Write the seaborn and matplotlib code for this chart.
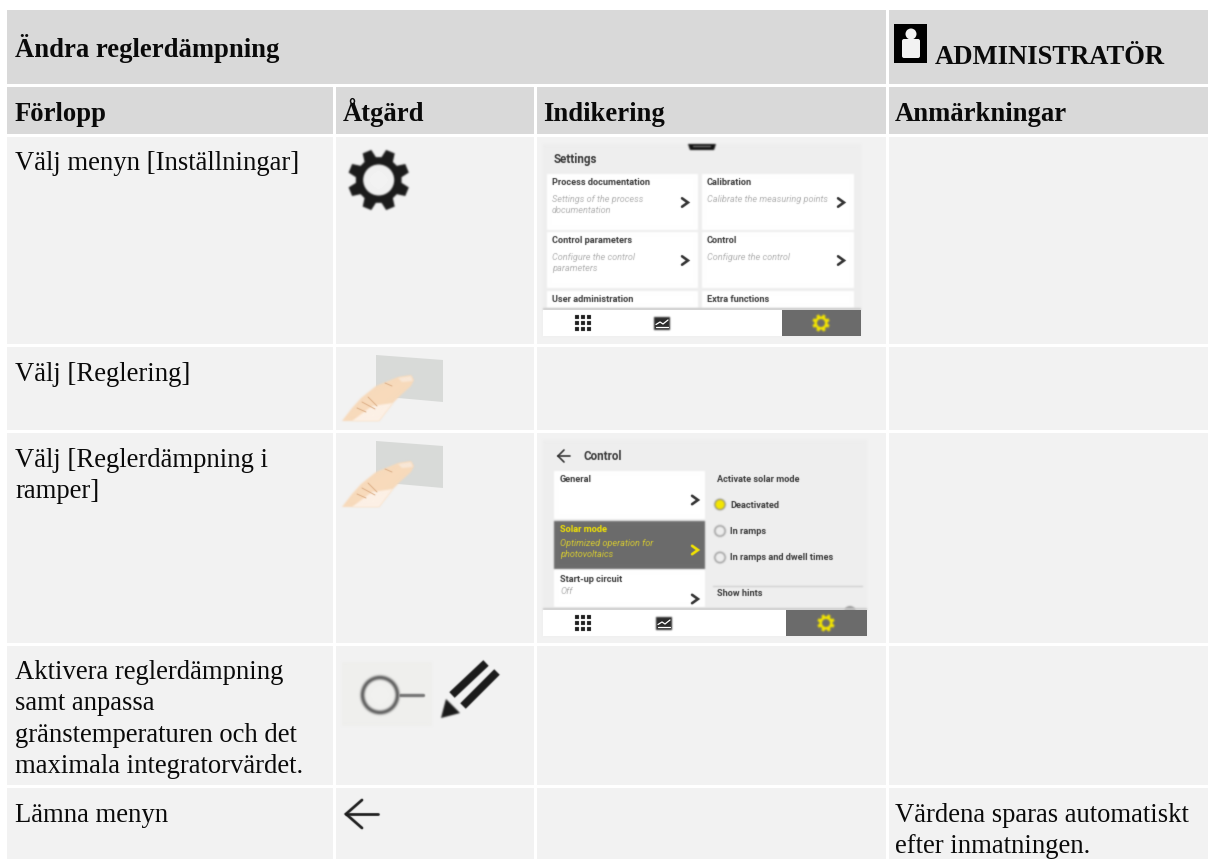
"""
Swedish procedure table (Ändra reglerdämpning) redrawn with seaborn / matplotlib.
The figure is one axes in pixel coordinates, y pointing down.
"""

import numpy as np
import matplotlib
matplotlib.use("Agg")
import matplotlib.pyplot as plt
from matplotlib.patches import Rectangle, Polygon, Circle, Ellipse, FancyBboxPatch
import seaborn as sns

# Table text
TITLE = "Ändra reglerdämpning"
ROLE = "ADMINISTRATÖR"
COLUMNS = ["Förlopp", "Åtgärd", "Indikering", "Anmärkningar"]
STEPS = [
    ["Välj menyn [Inställningar]"],
    ["Välj [Reglering]"],
    ["Välj [Reglerdämpning i", "ramper]"],
    ["Aktivera reglerdämpning", "samt anpassa", "gränstemperaturen och det", "maximala integratorvärdet."],
    ["Lämna menyn"],
]
REMARK = ["Värdena sparas automatiskt", "efter inmatningen."]

# Screenshot text
SETTINGS_CARDS = [
    ["Process documentation", "Settings of the process", "documentation"],
    ["Calibration", "Calibrate the measuring points", ""],
    ["Control parameters", "Configure the control", "parameters"],
    ["Control", "Configure the control", ""],
]
SETTINGS_CUT = ["User administration", "Extra functions"]
CONTROL_OPTIONS = ["Deactivated", "In ramps", "In ramps and dwell times"]

# Grid
COL_X = [(7, 333), (336, 534), (537, 886), (889, 1208)]
HEAD_TEXT_X = [15, 343, 543, 895]
ROW_Y = [(137, 344), (347, 430), (433, 643), (646, 785), (788, 859)]
BASE_Y = [170, 381, 467, 679, 822]
HEAD = "#d9d9d9"
BODY = "#f2f2f2"
INK = "#0a0a0a"
SCREEN = "#eeeeee"
DARK = "#6b6b6b"
YELLOW = "#f5e600"
HINT = "#b2b2b2"
LINE_H = 31.3
SERIF = "Liberation Serif"
NARROW = ["Liberation Sans Narrow", "Roboto"]


def blur(image, dpi, sigma=0.9):
    """agg_filter: soft gaussian, screenshots in the reference are upscaled"""
    pad = 6
    img = np.pad(image, ((pad, pad), (pad, pad), (0, 0)))
    rgb = img[..., :3] * img[..., 3:]
    pm = np.dstack([rgb, img[..., 3]])
    offs = np.arange(-5, 6)
    kernel = np.exp(-offs ** 2 / (2 * sigma ** 2))
    kernel /= kernel.sum()
    for axis in (0, 1):
        pm = sum(w * np.roll(pm, o, axis=axis) for o, w in zip(offs, kernel))
    alpha = np.clip(pm[..., 3:], 1e-4, 1)
    out = np.dstack([np.clip(pm[..., :3] / alpha, 0, 1), pm[..., 3]])
    return out, -pad, -pad


def soften(artist, sigma):
    artist.set_agg_filter(lambda im, dpi: blur(im, dpi, sigma))
    return artist


def add(ax, patch, soft=True):
    if soft:
        patch.set_agg_filter(blur)
    ax.add_patch(patch)
    return patch


def rect(ax, x0, y0, x1, y1, color, soft=False):
    return add(ax, Rectangle((x0, y0), x1 - x0, y1 - y0, fc=color, ec="none"), soft)


def serif(ax, x, y, s, bold=False, size=19.2):
    ax.text(x, y, s, family=SERIF, fontsize=size, color=INK, va="baseline",
            fontweight="bold" if bold else "normal")


def small(ax, x, y, s, color="#3a3a3a", bold=True, italic=False, size=6.6):
    t = ax.text(x, y, s, family=NARROW, fontsize=size, color=color, va="center",
                fontweight="bold" if bold else "normal",
                fontstyle="italic" if italic else "normal")
    soften(t, 0.5)


def gear(ax, cx, cy, r_out, r_root, r_hole, color, hole, soft=True):
    pts = []
    for k in range(8):
        mid = k * np.pi / 4 + np.pi / 8
        for da, r in [(-0.27, r_root), (-0.15, r_out), (0.15, r_out), (0.27, r_root)]:
            pts.append((cx + r * np.cos(mid + da), cy + r * np.sin(mid + da)))
    add(ax, Polygon(pts, closed=True, fc=color, ec="none"), soft)
    add(ax, Circle((cx, cy), r_hole, fc=hole, ec="none"), soft)


def hand(ax, dy):
    def shift(points):
        return [(x, y + dy) for x, y in points]

    add(ax, Polygon(shift([(376, 355), (443, 360), (443, 402), (376, 396)]),
                    fc="#d8dad8", ec="none"), soft=False)
    outline = [(342, 421), (352, 408), (361, 398), (376, 386), (398, 377), (411, 375),
               (414, 380), (411, 386), (401, 395), (393, 403), (379, 421)]
    add(ax, Polygon(shift(outline), fc="#f8dabb", ec="none"))
    # paler lower edge of the palm and the nail
    add(ax, Polygon(shift([(352, 421), (372, 406), (393, 403), (379, 421)]),
                    fc="#fdf1e6", ec="none"))
    add(ax, Polygon(shift([(398, 378), (411, 376), (413, 381), (402, 382)]),
                    fc="#f9e8d8", ec="none"))
    for (x0, y0), (x1, y1) in [((357, 408), (366, 412)), ((362, 402), (375, 409)),
                               ((368, 397), (377, 406)), ((385, 383), (392, 386))]:
        crease, = ax.plot([x0, x1], [y0 + dy, y1 + dy], color="#dcae86", lw=0.7)
        soften(crease, 0.5)


def chevron(ax, x, y, color="#333333", size=4.2):
    line, = ax.plot([x - size * 0.7, x + size * 0.7, x - size * 0.7],
                    [y - size, y, y + size], color=color, lw=1.9,
                    solid_joinstyle="miter")
    soften(line, 0.5)


def nav_bar(ax, x0, x1, split, y, dots_x, chart_x, gear_x):
    rect(ax, x0, y, x1, y + 1.6, "#c8c8c8", soft=True)
    rect(ax, x0, y + 1.6, x1, y + 28, "white")
    rect(ax, split, y + 1.6, x1, y + 28, DARK)
    cy = y + 15
    step = 6.3
    gx, gy = np.meshgrid([dots_x - step, dots_x, dots_x + step], [cy - step, cy, cy + step])
    sns.scatterplot(x=gx.ravel(), y=gy.ravel(), marker="s", s=7, color="#1c1c1c",
                    linewidth=0, legend=False, ax=ax)
    soften(ax.collections[-1], 0.4)
    rect(ax, chart_x - 8, cy - 6.5, chart_x + 8, cy + 6.5, "#2a2a2a", soft=True)
    l1, = ax.plot([chart_x - 6, chart_x - 2, chart_x + 1, chart_x + 6],
                  [cy + 1.5, cy - 1, cy + 1, cy - 3], color="white", lw=0.9)
    l2, = ax.plot([chart_x - 6, chart_x + 6], [cy + 4, cy + 4], color="white", lw=0.9)
    gear(ax, gear_x, cy, 8.8, 6.6, 4.0, YELLOW, DARK)


def settings_shot(ax):
    rect(ax, 543, 144, 861, 336, SCREEN, soft=True)
    add(ax, Polygon([(688, 144), (716, 144), (714, 150), (690, 150)], fc="#111111", ec="none"))
    rect(ax, 693, 146, 711, 147, "#999999", soft=True)
    small(ax, 554, 159, "Settings", size=8.4)
    tops = [(174, 230), (174, 230), (232, 288), (232, 288)]
    lefts = [(547, 698), (702, 854), (547, 698), (702, 854)]
    for card, (y0, y1), (x0, x1) in zip(SETTINGS_CARDS, tops, lefts):
        rect(ax, x0, y0, x1, y1, "white", soft=True)
        small(ax, x0 + 5, y0 + 8.5, card[0])
        small(ax, x0 + 5, y0 + 25, card[1], color=HINT, bold=False, italic=True)
        small(ax, x0 + 5, y0 + 36.5, card[2], color=HINT, bold=False, italic=True)
        chevron(ax, x1 - 13, y0 + 28.5)
    for s, (x0, x1) in zip(SETTINGS_CUT, lefts[:2]):
        rect(ax, x0, 291, x1, 307.5, "white", soft=True)
        small(ax, x0 + 5, 299, s)
    nav_bar(ax, 543, 861, 782, 308, 583, 662, 821)


def control_shot(ax):
    rect(ax, 543, 440, 867, 636, SCREEN, soft=True)
    arrow(ax, 558, 570, 456, 6, 6, 1.2, "#333333")
    small(ax, 583, 456, "Control", size=8.4)
    rect(ax, 554, 471, 705, 519, "white", soft=True)
    rect(ax, 554, 521, 705, 569, DARK, soft=True)
    rect(ax, 554, 570, 705, 607, "white", soft=True)
    small(ax, 560, 480, "General")
    chevron(ax, 695, 500)
    small(ax, 560, 529.5, "Solar mode", color=YELLOW)
    small(ax, 560, 543, "Optimized operation for", color="#d8cc30", bold=False, italic=True)
    small(ax, 560, 554.5, "photovoltaics", color="#d8cc30", bold=False, italic=True)
    chevron(ax, 695, 550, color=YELLOW)
    small(ax, 560, 579, "Start-up circuit")
    small(ax, 560, 592, "Off", color=HINT, bold=False, italic=True)
    chevron(ax, 695, 599)
    small(ax, 717, 480, "Activate solar mode")
    for i, (s, y) in enumerate(zip(CONTROL_OPTIONS, [505, 531.5, 558])):
        add(ax, Circle((720, y - 0.5), 5.2, fc=YELLOW if i == 0 else SCREEN,
                       ec="#808080", lw=0.8))
        small(ax, 730, y, s)
    rect(ax, 713, 585.5, 863, 586.5, "#c4c4c4", soft=True)
    small(ax, 717, 594, "Show hints")
    add(ax, Circle((850, 612), 6, fc="#999999", ec="none"))
    nav_bar(ax, 543, 867, 786, 608, 583, 664, 826)


def arrow(ax, x0, x1, y, head_x, head_y, lw, color):
    line, = ax.plot([x0 + head_x, x0, x0 + head_x], [y - head_y, y, y + head_y],
                    color=color, lw=lw, solid_joinstyle="miter")
    shaft, = ax.plot([x0, x1], [y, y], color=color, lw=lw)
    soften(line, 0.5)
    soften(shaft, 0.5)


def toggle_and_pencil(ax):
    rect(ax, 342, 662, 432, 726, "#efefed", soft=True)
    ring = Circle((380, 695), 17.5, fc="#f1f1ef", ec="#4a4a4a", lw=2.4)
    soften(ring, 1.3)
    ax.add_patch(ring)
    line, = ax.plot([400, 423], [695, 695], color="#777777", lw=2.4)
    soften(line, 0.7)
    for (x0, y0), (x1, y1) in [((452, 695), (486, 663)), ((463, 706), (497, 672))]:
        strip, = ax.plot([x0, x1], [y0, y1], color="#1a1a1a", lw=5.6, solid_capstyle="butt")
        soften(strip, 0.6)
    add(ax, Polygon([(441, 718), (446, 699), (460, 713)], fc="#1a1a1a", ec="none"))


def user_icon(ax):
    rect(ax, 894, 24, 927, 63, "black")
    ax.add_patch(Ellipse((911, 34), 11, 11, fc="#f2f2f2", ec="none"))
    ax.add_patch(FancyBboxPatch((904, 41), 14, 15, boxstyle="round,pad=2", fc="#f2f2f2", ec="none"))


def main():
    sns.set_theme(style="white")
    fig = plt.figure(figsize=(12.08, 8.59), dpi=100, facecolor="white")
    ax = fig.add_axes([0, 0, 1, 1])
    ax.set_xlim(0, 1208)
    ax.set_ylim(859, 0)
    ax.autoscale(False)
    ax.axis("off")

    # Header rows
    rect(ax, 7, 10, 886, 84, HEAD)
    rect(ax, 889, 10, 1208, 84, HEAD)
    serif(ax, 15, 57, TITLE, bold=True)
    user_icon(ax)
    serif(ax, 935, 64, ROLE, bold=True)
    for (x0, x1), tx, name in zip(COL_X, HEAD_TEXT_X, COLUMNS):
        rect(ax, x0, 87, x1, 134, HEAD)
        serif(ax, tx, 121, name, bold=True)

    # Body cells
    for (y0, y1) in ROW_Y:
        for (x0, x1) in COL_X:
            rect(ax, x0, y0, x1, y1, BODY)
    for lines, base in zip(STEPS, BASE_Y):
        for i, s in enumerate(lines):
            serif(ax, 15, base + i * LINE_H, s)
    for i, s in enumerate(REMARK):
        serif(ax, 895, BASE_Y[-1] + i * LINE_H, s)

    # Action icons
    gear(ax, 378.7, 180, 31, 23, 15.5, "#1a1a1a", BODY)
    hand(ax, 0)
    hand(ax, 86)
    toggle_and_pencil(ax)
    arrow(ax, 346, 378, 814, 16, 14, 2.0, "#1f1f1f")

    # Screenshots
    settings_shot(ax)
    control_shot(ax)

    fig.savefig("out.png", dpi=100, facecolor="white")
    plt.close(fig)


if __name__ == "__main__":
    main()
